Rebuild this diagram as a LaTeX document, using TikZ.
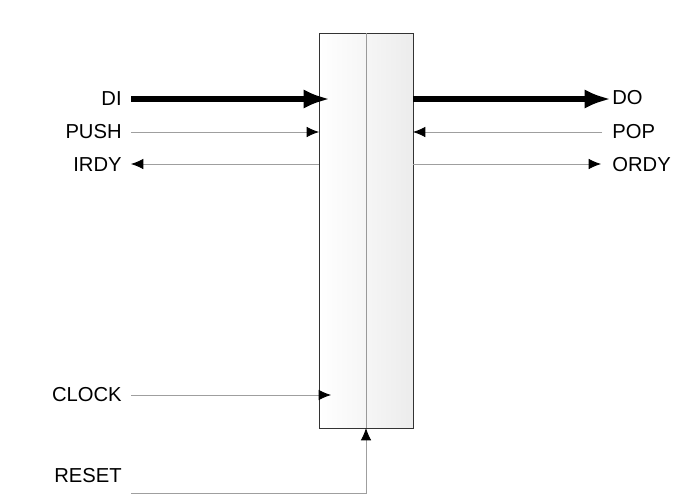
\documentclass[tikz,border=0pt]{standalone}
\usepackage{fontspec}
\setmainfont{Liberation Sans}
\usetikzlibrary{arrows.meta}
\begin{document}
\begin{tikzpicture}[x=0.02cm,y=-0.02cm,
  lbl/.style={font=\fontsize{11.5}{13}\selectfont,inner sep=0pt},
  sig/.style={draw=gray!75,line width=0.5pt},
  tip/.style={-{Latex[length=7pt,width=6pt,color=black]}},
  thick arrow/.style={line width=3.4pt,-{Latex[length=15pt,width=11pt]},draw=black}]
\useasboundingbox (0,0) rectangle (700,501);
\node[draw=black!80,line width=0.6pt,minimum width=94*0.02cm,minimum height=395*0.02cm,inner sep=0,
  left color=white,right color=gray!15,anchor=north west] (box) at (319,33) {};
\coordinate (mtop) at (366,33);
\coordinate (mbot) at (366,428);
\draw[gray!80,line width=0.5pt] (mtop) -- (mbot);
% labels
\node[lbl,anchor=east] (di) at (122,99) {DI};
\node[lbl,anchor=east] (push) at (122,132) {PUSH};
\node[lbl,anchor=east] (irdy) at (122,165) {IRDY};
\node[lbl,anchor=east] (clock) at (122,395) {CLOCK};
\node[lbl,anchor=east] (reset) at (122,476) {RESET};
\node[lbl,anchor=west] (do) at (612,98) {DO};
\node[lbl,anchor=west] (pop) at (612,132) {POP};
\node[lbl,anchor=west] (ordy) at (612,165) {ORDY};
% connectors
\coordinate (diA) at (131,99); \coordinate (diB) at (330,99);
\draw[thick arrow] (diA) -- (diB);
\coordinate (doA) at (413,99); \coordinate (doB) at (611,99);
\draw[thick arrow] (doA) -- (doB);
\coordinate (pushA) at (131,132); \coordinate (pushB) at (319,132);
\draw[sig,tip] (pushA) -- (pushB);
\coordinate (popA) at (602,132); \coordinate (popB) at (413,132);
\draw[sig,tip] (popA) -- (popB);
\coordinate (irdyA) at (319,164); \coordinate (irdyB) at (131,164);
\draw[sig,tip] (irdyA) -- (irdyB);
\coordinate (ordyA) at (413,164); \coordinate (ordyB) at (601,164);
\draw[sig,tip] (ordyA) -- (ordyB);
\coordinate (clkA) at (131,395); \coordinate (clkB) at (331,395);
\draw[sig,tip] (clkA) -- (clkB);
\coordinate (rstA) at (131,493); \coordinate (rstC) at (366,493);
\draw[sig,tip] (rstA) -- (rstC) -- (mbot);
\end{tikzpicture}
\end{document}
